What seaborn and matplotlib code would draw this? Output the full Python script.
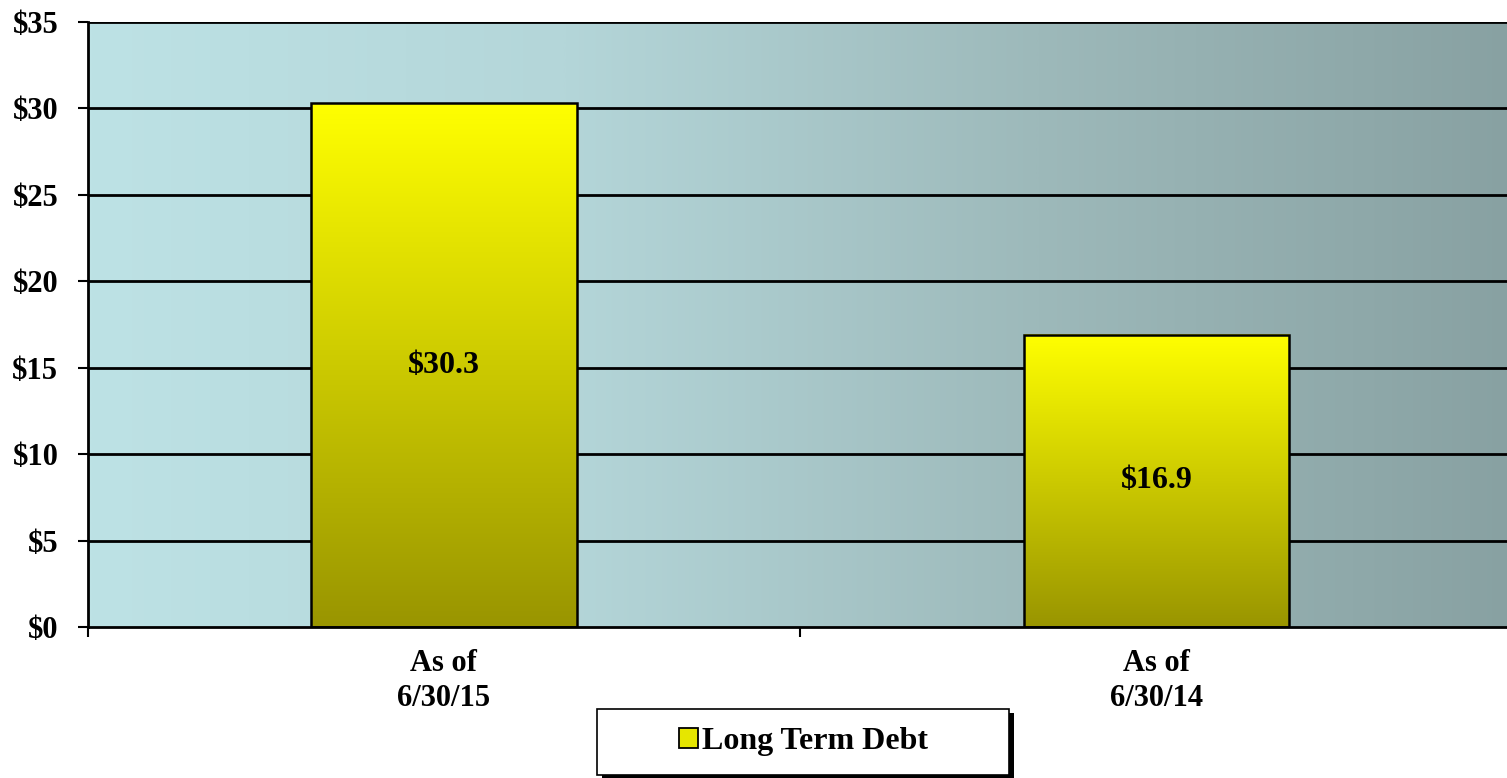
import numpy as np
import pandas as pd
import matplotlib
matplotlib.use("Agg")
import matplotlib.pyplot as plt
import seaborn as sns
from matplotlib.patches import Rectangle
from matplotlib.colors import LinearSegmentedColormap

categories = ["As of\n6/30/15", "As of\n6/30/14"]
values = [30.3, 16.9]
labels = ["$30.3", "$16.9"]
series_name = "Long Term Debt"
yticks = [0, 5, 10, 15, 20, 25, 30, 35]

sns.set_theme(style="white")
plt.rcParams['font.family'] = ['Liberation Serif', 'DejaVu Serif']
plt.rcParams['font.weight'] = 'bold'
plt.rcParams['text.color'] = 'black'
plt.rcParams['xtick.color'] = 'black'
plt.rcParams['ytick.color'] = 'black'

W, H = 1507, 778
FS = 22
fig = plt.figure(figsize=(W/100, H/100), dpi=100)
ax = fig.add_axes([87.5/W, 1-627/H, (1513-87.5)/W, (627-22)/H])

df = pd.DataFrame({"cat": categories, "val": values})
sns.barplot(data=df, x="cat", y="val", ax=ax, width=0.3725, color="yellow",
            edgecolor="black", linewidth=1.8, zorder=3)

ax.set_xlim(-0.5, 1.5)
ax.set_ylim(0, 35)

# background gradient
bg = LinearSegmentedColormap.from_list("bg", ["#BDE2E5", "#B4D6D9", "#9DB9BA", "#88A1A2"])
grad = np.linspace(0, 1, 512).reshape(1, -1)
ax.imshow(grad, cmap=bg, aspect="auto", extent=[-0.5, 1.5, 0, 35], zorder=0)

# bar gradients
barcm = LinearSegmentedColormap.from_list("bar", ["#999500", "#FFFF00"])
vgrad = np.linspace(0, 1, 256).reshape(-1, 1)
for p in ax.patches:
    x0, w, h = p.get_x(), p.get_width(), p.get_height()
    p.set_facecolor("none")
    ax.imshow(vgrad, cmap=barcm, aspect="auto", origin="lower",
              extent=[x0, x0 + w, 0, h], zorder=2)
ax.set_xlim(-0.5, 1.5)
ax.set_ylim(0, 35)

# grid lines
for y in yticks[1:]:
    ax.axhline(y, color="black", lw=2.0, zorder=1)

# data labels
for i, (v, t) in enumerate(zip(values, labels)):
    ax.text(i, v / 2, t, ha="center", va="center", fontsize=FS + 1,
            fontweight="bold", color="black", zorder=4)

ax.set_yticks(yticks)
ax.set_yticklabels([f"${t}" for t in yticks], fontsize=FS, fontweight="bold")
ax.set_xticks([0, 1])
ax.set_xticklabels(categories, fontsize=FS, fontweight="bold", linespacing=1.25)
ax.set_xticks([-0.5, 0.5, 1.5], minor=True)
ax.tick_params(axis="x", which="major", length=0, pad=16)
ax.tick_params(axis="x", which="minor", length=7, width=1.5, color="black", direction="out", bottom=True)
ax.tick_params(axis="y", length=7, width=1.5, color="black", direction="out", left=True, pad=14)
ax.set_xlabel("")
ax.set_ylabel("")
for s in ["top", "right"]:
    ax.spines[s].set_visible(False)
for s in ["left", "bottom"]:
    ax.spines[s].set_color("black")
    ax.spines[s].set_linewidth(2.0)
    ax.spines[s].set_zorder(5)

# legend box with shadow
lx0, ly0, lx1, ly1 = 597, 709, 1009, 775
fig.patches.append(Rectangle(((lx0+5)/W, 1-(ly1+4)/H), (lx1-lx0)/W, (ly1-ly0)/H,
                             transform=fig.transFigure, facecolor="black",
                             edgecolor="none", zorder=0))
fig.patches.append(Rectangle((lx0/W, 1-ly1/H), (lx1-lx0)/W, (ly1-ly0)/H,
                             transform=fig.transFigure, facecolor="white",
                             edgecolor="black", lw=1.2, zorder=1))
handle = Rectangle((0, 0), 1, 1, facecolor="#E6E600", edgecolor="black", lw=1.3)
leg = fig.legend([handle], [series_name], loc="center",
                 bbox_to_anchor=(803/W, 1-742/H), frameon=False,
                 prop={"size": FS + 1, "weight": "bold", "family": "Liberation Serif"},
                 handlelength=0.6, handleheight=0.6, handletextpad=0.12)

fig.savefig("out.png", dpi=100)
